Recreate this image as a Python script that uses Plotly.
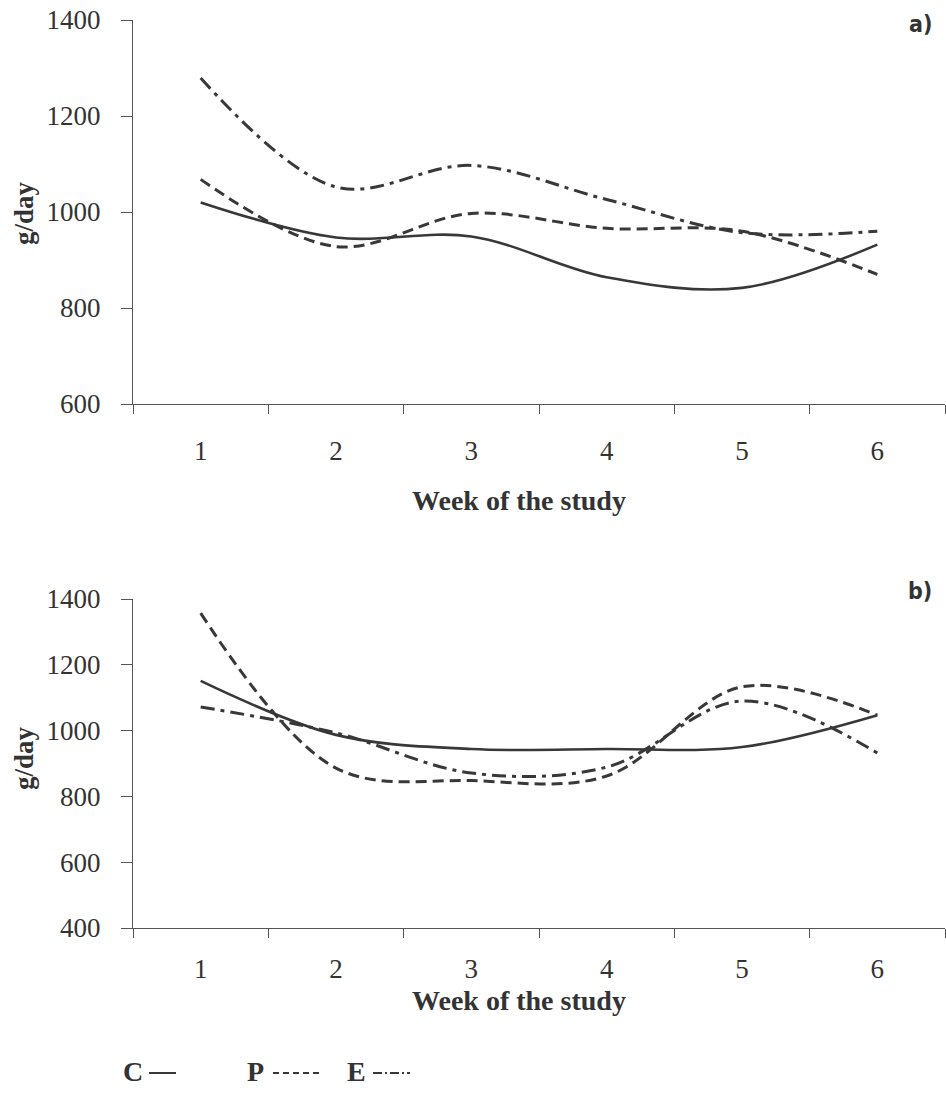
import plotly.graph_objects as go

# ---- data ----
weeks = ["1", "2", "3", "4", "5", "6"]
a_C = [1020, 947, 949, 864, 842, 932]
a_P = [1068, 928, 997, 966, 960, 870]
a_E = [1279, 1052, 1097, 1026, 957, 960]
b_C = [1151, 987, 944, 944, 950, 1047]
b_P = [1357, 886, 848, 862, 1133, 1047]
b_E = [1072, 993, 871, 889, 1090, 932]
series_names = ["C", "P", "E"]
y_ticks_a = [600, 800, 1000, 1200, 1400]
y_ticks_b = [400, 600, 800, 1000, 1200, 1400]

LINE = "#383838"
AX = "#555555"
TXT = "#333333"
SERIF = "Liberation Serif, Times New Roman, serif"
dashes = {"C": "solid", "P": "11px,6px", "E": "14px,6px,4px,6px"}
widths = {"C": 2.6, "P": 3, "E": 3}

W, H = 946, 1101
fig = go.Figure()

for name, ya, yb in zip(series_names, [a_C, a_P, a_E], [b_C, b_P, b_E]):
    fig.add_trace(go.Scatter(x=weeks, y=ya, mode="lines", name=name, showlegend=False,
                             line=dict(color=LINE, width=widths[name], dash=dashes[name], shape="spline"),
                             xaxis="x", yaxis="y"))
    fig.add_trace(go.Scatter(x=weeks, y=yb, mode="lines", name=name, showlegend=False,
                             line=dict(color=LINE, width=widths[name], dash=dashes[name], shape="spline"),
                             xaxis="x2", yaxis="y2"))

xdom = [133 / W, 945 / W]
common_x = dict(type="category", tickson="boundaries", ticks="outside", ticklen=9, tickcolor=AX,
                tickwidth=1.2, showline=True, linecolor=AX, linewidth=1.2, showgrid=False,
                zeroline=False, tickfont=dict(family=SERIF, size=27, color=TXT), domain=xdom,
                range=[-0.5, 5.5], automargin=False, fixedrange=True)
common_y = dict(ticks="outside", ticklen=11, tickcolor=AX, tickwidth=1.2, showline=True,
                linecolor=AX, linewidth=1.2, showgrid=False, zeroline=False,
                tickfont=dict(family=SERIF, size=27, color=TXT), ticklabelstandoff=15,
                automargin=False)

fig.update_layout(
    template="none",
    width=W, height=H,
    margin=dict(l=0, r=0, t=0, b=0, autoexpand=False),
    paper_bgcolor="white", plot_bgcolor="white",
    showlegend=False,
    xaxis=dict(**common_x, anchor="y", ticklabelstandoff=22),
    yaxis=dict(**common_y, range=[600, 1400], tickvals=y_ticks_a,
               domain=[1 - 404 / H, 1 - 20 / H], anchor="x"),
    xaxis2=dict(**common_x, anchor="y2", ticklabelstandoff=16),
    yaxis2=dict(**common_y, range=[400, 1400], tickvals=y_ticks_b,
                domain=[1 - 928 / H, 1 - 599 / H], anchor="x2"),
)

ann = []
# axis titles
for ypx in (500, 1000):
    ann.append(dict(text="<b>Week of the study</b>", x=519 / W, y=1 - ypx / H, xref="paper", yref="paper",
                    showarrow=False, font=dict(family=SERIF, size=28, color=TXT),
                    xanchor="center", yanchor="middle"))
for ypx in (213, 758):
    ann.append(dict(text="<b>g/day</b>", x=24 / W, y=1 - ypx / H, xref="paper", yref="paper",
                    showarrow=False, textangle=-90, font=dict(family=SERIF, size=27, color=TXT),
                    xanchor="center", yanchor="middle"))
# panel labels
for lbl, xpx, ypx in (("a)", 920, 24), ("b)", 920, 591)):
    ann.append(dict(text=f"<b>{lbl}</b>", x=xpx / W, y=1 - ypx / H, xref="paper", yref="paper",
                    showarrow=False,
                    font=dict(family="DejaVu Sans Condensed, Liberation Sans Narrow, sans-serif",
                              size=23, color=TXT),
                    xanchor="center", yanchor="middle"))

# legend (text followed by line sample)
legend_pos = {"C": (133, 149, 176), "P": (255, 273, 320), "E": (356, 373, 410)}
shapes = []
for name in series_names:
    tx, x0, x1 = legend_pos[name]
    ann.append(dict(text=f"<b>{name}</b>", x=tx / W, y=1 - 1071 / H, xref="paper", yref="paper",
                    showarrow=False, font=dict(family=SERIF, size=28, color=TXT),
                    xanchor="center", yanchor="middle"))
    d = {"C": "solid", "P": "6px,4px", "E": "9px,3px,2px,3px"}[name]
    shapes.append(dict(type="line", xref="paper", yref="paper", x0=x0 / W, x1=x1 / W,
                       y0=1 - 1073 / H, y1=1 - 1073 / H, line=dict(color=LINE, width=2, dash=d)))

fig.update_layout(annotations=ann, shapes=shapes)
fig.write_html("out.html")
